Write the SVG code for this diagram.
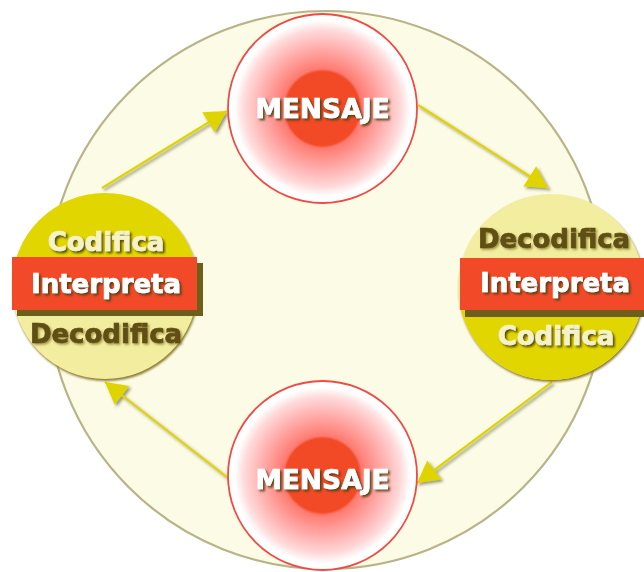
<svg xmlns="http://www.w3.org/2000/svg" width="644" height="572" viewBox="0 0 644 572">
<style>
.lbl{font-family:"DejaVu Sans","Verdana",sans-serif;font-weight:bold;font-size:26px;text-anchor:middle;stroke-width:0.7}
.cream{fill:#f6f2c8;stroke:#f6f2c8;filter:url(#ts)}
.white{fill:#ffffff;stroke:#ffffff;filter:url(#ts)}
.dark{fill:#5e5012;stroke:#5e5012;filter:url(#ts2)}
.msg{font-size:26.5px}
.conn{stroke:#e0d400;stroke-width:2.2;fill:none;marker-end:url(#ah)}
.dk{fill:#e2d600}
.pl{fill:#f3eda0}
.band{fill:#f24a28}
.bsh{fill:#6e5e1c}
</style>
<defs>
<filter id="ts" x="-20%" y="-40%" width="140%" height="180%">
<feDropShadow dx="2" dy="2" stdDeviation="0.8" flood-color="#4a4010" flood-opacity="0.9"/>
</filter>
<filter id="ts2" x="-20%" y="-40%" width="140%" height="180%">
<feDropShadow dx="1.5" dy="1.5" stdDeviation="1.2" flood-color="#8a7a30" flood-opacity="0.8"/>
</filter>
<filter id="sh" x="-20%" y="-20%" width="140%" height="140%">
<feDropShadow dx="2" dy="2" stdDeviation="1.5" flood-color="#555533" flood-opacity="0.6"/>
</filter>
<filter id="blur1"><feGaussianBlur stdDeviation="1"/></filter>
<radialGradient id="rg" cx="0.5" cy="0.5" r="0.5">
<stop offset="0" stop-color="#f24a26"/>
<stop offset="0.39" stop-color="#f24a26"/>
<stop offset="0.42" stop-color="#ff7a70"/>
<stop offset="0.55" stop-color="#ff9894"/>
<stop offset="0.7" stop-color="#ffbaba"/>
<stop offset="0.83" stop-color="#ffdada"/>
<stop offset="0.93" stop-color="#ffffff"/>
<stop offset="1" stop-color="#ffffff"/>
</radialGradient>
<clipPath id="nc"><circle cx="0" cy="0" r="93"/></clipPath>
<marker id="ah" markerUnits="userSpaceOnUse" markerWidth="26" markerHeight="26" viewBox="0 0 24 24" refX="22" refY="12" orient="auto">
<path d="M2,1 L22,12 L2,23 Z" fill="#e0d400"/>
</marker>
</defs>

<rect width="644" height="572" fill="#ffffff"/>
<circle id="ring" cx="326" cy="290" r="279" fill="#fbfbe6" stroke="#b8b488" stroke-width="2.2"/>

<g id="connectors" filter="url(#sh)">
<line class="conn" x1="102" y1="188" x2="227" y2="111"/>
<line class="conn" x1="418" y1="105" x2="548" y2="188"/>
<line class="conn" x1="552" y1="382" x2="417" y2="483"/>
<line class="conn" x1="228" y1="478" x2="105" y2="382"/>
</g>

<g id="msg-top" transform="translate(322.5,108.5)">
<circle r="94.5" fill="url(#rg)" stroke="#f04a44" stroke-width="1.8"/>
<text class="lbl white msg" x="0" y="9.5">MENSAJE</text>
</g>

<g id="msg-bottom" transform="translate(322.5,475.5)">
<circle r="94.5" fill="url(#rg)" stroke="#f04a44" stroke-width="1.8"/>
<text class="lbl white msg" x="0" y="13.5">MENSAJE</text>
</g>

<g id="node-left" transform="translate(105,286)">
<circle cx="1" cy="2" r="93" fill="#8a7c30" filter="url(#blur1)"/>
<circle r="93" class="pl"/>
<rect x="-95" y="-95" width="190" height="68" class="dk" clip-path="url(#nc)"/>
<rect x="-88" y="-23" width="186" height="53" class="bsh"/>
<rect x="-93" y="-29" width="185" height="53" class="band"/>
<text class="lbl cream" x="1" y="-35">Codifica</text>
<text class="lbl white" x="1" y="7">Interpreta</text>
<text class="lbl dark" x="1" y="57">Decodifica</text>
</g>

<g id="node-right" transform="translate(551,287)">
<circle cx="1" cy="2" r="93" fill="#8a7c30" filter="url(#blur1)"/>
<circle r="93" class="pl"/>
<rect x="-95" y="23" width="190" height="72" class="dk" clip-path="url(#nc)"/>
<rect x="-86" y="-23" width="190" height="53" class="bsh"/>
<rect x="-91" y="-29" width="190" height="52" class="band"/>
<text class="lbl dark" x="3" y="-39">Decodifica</text>
<text class="lbl white" x="4" y="5">Interpreta</text>
<text class="lbl cream" x="5" y="58">Codifica</text>
</g>
</svg>
